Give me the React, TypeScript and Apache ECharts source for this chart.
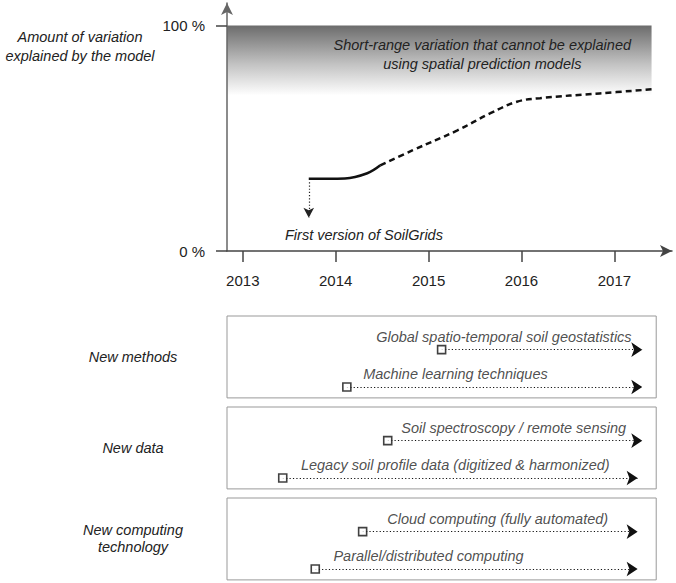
import React, { useEffect, useRef } from "react";
import * as echarts from "echarts";

// ---- data ----
const years = [2013, 2014, 2015, 2016, 2017];
const yTickValues = [0, 100];
const solidCurve: number[][] = [
  [2013.71, 32],
  [2014.1, 32.2],
  [2014.34, 34.5],
  [2014.48, 38],
];
const dashedCurve: number[][] = [
  [2014.48, 38],
  [2014.83, 44.7],
  [2015.31, 53.5],
  [2015.66, 61],
  [2015.95, 66.2],
  [2016.2, 67.8],
  [2016.84, 69.9],
  [2017.4, 71.7],
];
const firstVersionYear = 2013.71;
const bandRange = [69, 100];
const bandEndYear = 2017.4;
const bandText = "Short-range variation that cannot be explained\nusing spatial prediction models";
const yAxisTitle = "Amount of variation\nexplained by the model";
const firstVersionText = "First version of SoilGrids";

const groups = ["New methods", "New data", "New computing\ntechnology"];
const itemNames = [
  "Global spatio-temporal soil geostatistics",
  "Machine learning techniques",
  "Soil spectroscopy / remote sensing",
  "Legacy soil profile data (digitized & harmonized)",
  "Cloud computing (fully automated)",
  "Parallel/distributed computing",
];
const itemGroup = [0, 0, 1, 1, 2, 2];
const itemRow = [0, 1, 0, 1, 0, 1];
const itemStart = [2015.14, 2014.12, 2014.56, 2013.43, 2014.29, 2013.78];
const itemEnd = [2017.3, 2017.3, 2017.3, 2017.25, 2017.25, 2017.25];
const itemLabelYear = [2014.43, 2014.29, 2014.7, 2013.62, 2014.55, 2013.97];

// ---- layout ----
const xMin = 2012.83;
const xMax = 2017.62;
const boxEndYear = 2017.45;
const rowOffsets = [0.37, 0.78];
const FONT = "'Liberation Sans', Arial, sans-serif";
const FS = 14.5;

export default function App() {
  const ref = useRef<HTMLDivElement>(null);
  useEffect(() => {
    document.body.style.margin = "0";
    if (!ref.current) return;
    const chart = echarts.init(ref.current, null, { renderer: "svg" });

    const rowY = (i: number) => itemGroup[i] + rowOffsets[itemRow[i]];

    const option: any = {
      animation: false,
      backgroundColor: "#fff",
      textStyle: { fontFamily: FONT },
      grid: [
        { left: 227, top: 3, width: 445, height: 248, outerBoundsMode: "none" },
        { left: 227, top: 316, width: 445, height: 273, outerBoundsMode: "none" },
      ],
      xAxis: [
        {
          type: "value",
          gridIndex: 0,
          min: xMin,
          max: xMax,
          z: 10,
          splitLine: { show: false },
          axisLine: {
            show: true,
            symbol: ["none", "arrow"],
            symbolSize: [9, 12],
            lineStyle: { color: "#444", width: 1.5 },
          },
          axisTick: {
            show: true,
            customValues: years,
            length: 11,
            lineStyle: { color: "#444", width: 1.5 },
          },
          axisLabel: {
            customValues: years,
            margin: 22,
            fontSize: 15,
            color: "#222",
            fontFamily: FONT,
            formatter: (v: number) => String(Math.round(v)),
          },
        },
        {
          type: "value",
          gridIndex: 1,
          min: xMin,
          max: xMax,
          show: false,
        },
      ],
      yAxis: [
        {
          type: "value",
          gridIndex: 0,
          min: 0,
          max: 110,
          z: 10,
          splitLine: { show: false },
          axisLine: {
            show: true,
            symbol: ["none", "arrow"],
            symbolSize: [9, 12],
            lineStyle: { color: "#666", width: 1.5 },
          },
          axisTick: {
            show: true,
            customValues: yTickValues,
            length: 11,
            lineStyle: { color: "#444", width: 1.5 },
          },
          axisLabel: {
            customValues: yTickValues,
            margin: 22,
            fontSize: 15,
            color: "#222",
            fontFamily: FONT,
            formatter: (v: number) => v + " %",
          },
        },
        {
          type: "value",
          gridIndex: 1,
          min: 0,
          max: 3,
          inverse: true,
          splitLine: { show: false },
          axisLine: { show: false },
          axisTick: { show: false },
          axisLabel: {
            customValues: [0.45, 1.45, 2.45],
            align: "center",
            margin: 94,
            fontSize: FS,
            fontStyle: "italic",
            lineHeight: 17,
            color: "#222",
            fontFamily: FONT,
            formatter: (v: number) => groups[Math.floor(v)],
          },
        },
      ],
      graphic: [
        {
          type: "text",
          x: 80,
          y: 46,
          style: {
            text: yAxisTitle,
            fontSize: FS,
            fontStyle: "italic",
            fontFamily: FONT,
            fill: "#222",
            align: "center",
            verticalAlign: "middle",
            lineHeight: 19,
          },
        },
        {
          type: "text",
          x: 285,
          y: 235,
          style: {
            text: firstVersionText,
            fontSize: FS,
            fontStyle: "italic",
            fontFamily: FONT,
            fill: "#222",
            align: "left",
            verticalAlign: "middle",
          },
        },
      ],
      series: [
        {
          type: "line",
          xAxisIndex: 0,
          yAxisIndex: 0,
          data: solidCurve,
          smooth: 0.4,
          showSymbol: false,
          lineStyle: { color: "#111", width: 2.5 },
          z: 5,
          markLine: {
            silent: true,
            symbol: ["none", "arrow"],
            symbolSize: [8, 10],
            label: { show: false },
            lineStyle: { type: [1.2, 2], color: "#222", width: 1.2 },
            data: [[{ coord: [firstVersionYear, 30.5] }, { coord: [firstVersionYear, 14.8] }]],
          },
        },
        {
          type: "line",
          xAxisIndex: 0,
          yAxisIndex: 0,
          data: dashedCurve,
          smooth: 0.4,
          showSymbol: false,
          lineStyle: { color: "#111", width: 2.5, type: [6, 4] },
          z: 5,
          markArea: {
            silent: true,
            itemStyle: {
              color: new echarts.graphic.LinearGradient(0, 0, 0, 1, [
                { offset: 0, color: "#6c6c6c" },
                { offset: 0.55, color: "#c2c2c2" },
                { offset: 1, color: "#ffffff" },
              ]),
            },
            label: {
              show: true,
              position: "inside",
              offset: [43, -6],
              formatter: bandText,
              fontSize: FS,
              fontStyle: "italic",
              fontFamily: FONT,
              color: "#222",
              lineHeight: 19,
              align: "center",
            },
            data: [[{ coord: [xMin, bandRange[0]] }, { coord: [bandEndYear, bandRange[1]] }]],
          },
        },
        {
          type: "lines",
          coordinateSystem: "cartesian2d",
          xAxisIndex: 1,
          yAxisIndex: 1,
          symbol: ["none", "arrow"],
          symbolSize: 11,
          lineStyle: { type: [1.2, 2.2], color: "#111", width: 1.2, opacity: 1 },
          data: itemNames.map((n, i) => ({
            name: n,
            coords: [
              [itemStart[i], rowY(i)],
              [itemEnd[i], rowY(i)],
            ],
          })),
          z: 3,
        },
        {
          type: "scatter",
          xAxisIndex: 1,
          yAxisIndex: 1,
          symbol: "rect",
          symbolSize: 8,
          itemStyle: { color: "#fff", borderColor: "#111", borderWidth: 1.6 },
          data: itemNames.map((n, i) => [itemStart[i], rowY(i)]),
          z: 6,
          markArea: {
            silent: true,
            itemStyle: { color: "rgba(0,0,0,0)", borderColor: "#999", borderWidth: 1 },
            data: groups.map((g, gi) => [
              { coord: [xMin, gi] },
              { coord: [boxEndYear, gi + 0.9] },
            ]),
          },
        },
        {
          type: "scatter",
          xAxisIndex: 1,
          yAxisIndex: 1,
          symbolSize: 1,
          itemStyle: { color: "rgba(0,0,0,0)" },
          data: itemNames.map((n, i) => [itemLabelYear[i], rowY(i)]),
          label: {
            show: true,
            position: "right",
            distance: 0,
            offset: [0, -13],
            fontSize: FS,
            fontStyle: "italic",
            fontFamily: FONT,
            color: "#222",
            formatter: (p: any) => itemNames[p.dataIndex],
          },
          z: 7,
        },
      ],
    };
    chart.setOption(option);
    return () => chart.dispose();
  }, []);
  return <div ref={ref} style={{ width: 676, height: 583 }} />;
}
